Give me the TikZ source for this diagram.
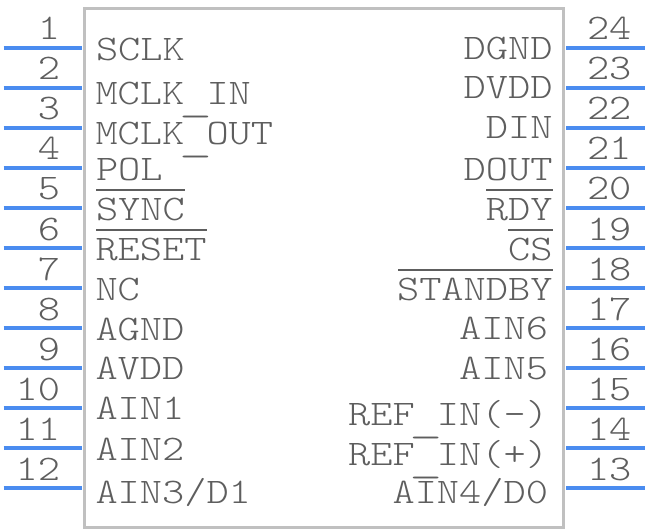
\documentclass[tikz,border=0pt]{standalone}
\usepackage{fontspec}
\setmonofont[FakeStretch=1.175]{Latin Modern Mono Light}
\definecolor{pinblue}{HTML}{4A8CF0}
\definecolor{bodygrey}{HTML}{C0C0C0}
\definecolor{textgrey}{HTML}{5E5E5E}
\newcommand{\lowbar}{\makebox[22.2pt][c]{\raisebox{-7pt}{\scalebox{1.5}[1]{\_}}}}
\tikzset{
  pinline/.style={draw=pinblue,line width=3.4pt},
  bodybox/.style={draw=bodygrey,line width=3.4pt,line join=miter},
  overbar/.style={draw=textgrey,line width=1.6pt},
  lbl/.style={inner sep=0pt,outer sep=0pt,text=textgrey,font=\fontsize{36}{36}\selectfont\ttfamily},
  lleft/.style={lbl,anchor=base west},
  lright/.style={lbl,anchor=base east}
}
\begin{document}
\begin{tikzpicture}[x=1pt,y=-1pt]
\useasboundingbox (0,0) rectangle (648,532);
\fill[white] (0,0) rectangle (648,532);
\draw[bodybox] (84.3,8.5) rectangle (563.5,527.7);
\foreach \n in {1,...,12}{
  \draw[pinline] (3.5,8+40*\n) -- (82,8+40*\n);
  \node[lright] (pinl\n) at (60,40*\n) {\n};
}
\foreach \n in {13,...,24}{
  \pgfmathtruncatemacro{\k}{25-\n}
  \draw[pinline] (566,8+40*\k) -- (645,8+40*\k);
  \node[lleft] (pinr\n) at (587,40*\k) {\n};
}
\node[lleft] (sclk) at (96,61) {SCLK};
\node[lleft] (mclkin) at (95.5,105) {MCLK\lowbar IN};
\node[lleft] (mclkout) at (95.5,145) {MCLK\lowbar OUT};
\node[lleft] (pol) at (96,180) {POL};
\node[lleft] (sync) at (96,220) {SYNC};
\node[lleft] (reset) at (95.5,260) {RESET};
\node[lleft] (nc) at (95.5,300) {NC};
\node[lleft] (agnd) at (95.5,340) {AGND};
\node[lleft] (avdd) at (95.5,379) {AVDD};
\node[lleft] (ain1) at (95.5,419) {AIN1};
\node[lleft] (ain2) at (95.5,460) {AIN2};
\node[lleft] (ain3) at (95.5,503) {AIN3/D1};
\node[lright] (dgnd) at (552.5,60) {DGND};
\node[lright] (dvdd) at (552.5,99) {DVDD};
\node[lright] (din) at (552.5,139) {DIN};
\node[lright] (dout) at (552.5,180) {DOUT};
\node[lright] (rdy) at (552.5,220) {RDY};
\node[lright] (cs) at (552.5,260) {CS};
\node[lright] (standby) at (552.5,300) {STANDBY};
\node[lright] (ain6) at (548,339) {AIN6};
\node[lright] (ain5) at (548,379) {AIN5};
\node[lright] (refm) at (548,425) {REF\lowbar IN(-)};
\node[lright] (refp) at (548,465) {REF\lowbar IN(+)};
\node[lright] (ain4) at (548,503) {AIN4/D0};
\draw[overbar] (96,190) -- (185,190);
\draw[overbar] (96,230) -- (207,230);
\draw[overbar] (486,190) -- (553,190);
\draw[overbar] (508,230) -- (553,230);
\draw[overbar] (398,270) -- (553,270);
\end{tikzpicture}
\end{document}
